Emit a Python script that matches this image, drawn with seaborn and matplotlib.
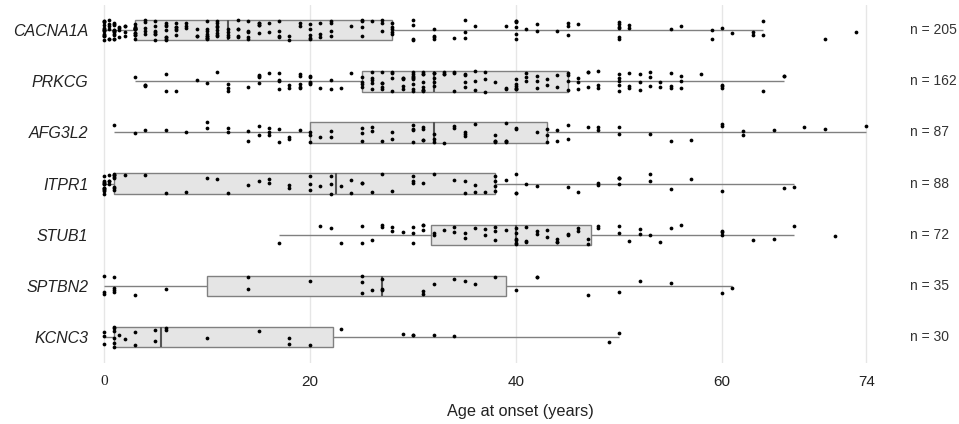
import numpy as np
import pandas as pd
import matplotlib
matplotlib.use("Agg")
import matplotlib.pyplot as plt
import seaborn as sns

# gene order (top to bottom)
genes = ["CACNA1A", "PRKCG", "AFG3L2", "ITPR1", "STUB1", "SPTBN2", "KCNC3"]

# age at onset values and how many patients share each value
cacna1a_age = [0, 0.5, 1, 1.5, 2, 3, 4, 5, 6, 7, 8, 9, 10, 11, 12,
               13, 14, 15, 16, 17, 18, 19, 20, 21, 22, 24, 25, 26, 27, 28,
               30, 32, 34, 35, 36, 39, 40, 41, 42, 44, 45, 46, 50, 51, 55,
               56, 59, 60, 61, 63, 64, 70, 73]
cacna1a_cnt = [14, 6, 12, 4, 4, 13, 5, 7, 8, 6, 3, 3, 9, 8, 4,
               5, 5, 5, 2, 4, 2, 2, 5, 3, 4, 1, 4, 1, 3, 5,
               4, 4, 1, 3, 1, 1, 6, 1, 2, 1, 3, 1, 6, 2, 1,
               1, 2, 1, 1, 2, 2, 1, 1]

prkcg_age = [3, 4, 6, 7, 9, 10, 11, 12, 14, 15, 16, 17, 18, 19, 20, 21, 22, 23, 24,
             25, 26, 27, 28, 29, 30, 31, 32,
             33, 34, 35, 36, 37, 38, 39, 40, 41, 42, 43, 44, 45,
             46, 47, 48, 50, 51, 52, 53, 54, 55, 56, 58, 60, 64, 66]
prkcg_cnt = [1, 3, 2, 1, 1, 1, 1, 3, 1, 4, 1, 4, 2, 5, 5, 1, 2, 1, 1,
             4, 5, 5, 4, 5, 9, 8, 5,
             3, 3, 4, 3, 3, 1, 2, 6, 3, 3, 2, 2, 4,
             3, 3, 3, 5, 3, 3, 3, 2, 3, 3, 1, 3, 1, 2]

afg3l2_age = [1, 3, 4, 6, 8, 10, 12, 14, 15, 16, 17, 18, 19, 20,
              21, 22, 25, 26, 27, 28, 30, 31, 32,
              33, 34, 35, 36, 38, 39, 40, 42, 43,
              44, 45, 47, 48, 50, 53, 55, 57, 60, 62, 65, 68, 70, 74]
afg3l2_cnt = [1, 1, 1, 1, 1, 2, 2, 2, 2, 3, 2, 2, 1, 3,
              1, 2, 3, 2, 1, 2, 4, 4, 3,
              1, 2, 3, 1, 4, 4, 2, 1, 3,
              2, 2, 1, 2, 2, 1, 1, 1, 2, 2, 1, 1, 1, 1]

itpr1_age = [0, 0.5, 1, 2, 4, 6, 8, 10, 11, 12, 14, 15, 16, 18, 20, 21, 22,
             23, 24, 25, 26, 27, 28, 30, 31, 32, 34, 35, 36, 37, 38,
             39, 40, 41, 42, 45, 46, 48, 50, 53, 55, 57, 60, 66, 67]
itpr1_cnt = [12, 4, 8, 1, 1, 1, 1, 1, 1, 1, 1, 1, 2, 2, 3, 1, 3,
             1, 2, 2, 1, 1, 1, 3, 1, 1, 1, 2, 2, 1, 4,
             1, 3, 1, 1, 1, 1, 2, 4, 2, 1, 1, 1, 1, 1]

stub1_age = [17, 21, 22, 23, 25, 26, 27, 28, 29, 30, 31,
             32, 33, 34, 35, 36, 37, 38, 39, 40,
             41, 42, 43, 44, 45, 46, 47,
             48, 50, 51, 52, 53, 54, 55, 56, 60, 63, 65, 67, 71]
stub1_cnt = [1, 1, 1, 1, 2, 1, 2, 2, 1, 3, 3,
             2, 1, 2, 2, 1, 2, 3, 1, 6,
             3, 2, 2, 3, 2, 2, 2,
             2, 2, 1, 2, 1, 1, 1, 1, 3, 1, 1, 1, 1]

sptbn2_age = [0, 1, 3, 6, 14, 20, 25, 26, 27, 31, 32, 34, 35, 36, 38, 40,
              42, 47, 50, 52, 55, 60, 61]
sptbn2_cnt = [3, 4, 1, 1, 2, 1, 3, 1, 3, 2, 1, 1, 1, 1, 1, 1,
              2, 1, 1, 1, 1, 1, 1]

kcnc3_age = [0, 1, 1.5, 2, 3, 5, 6, 10, 15, 18, 20, 23, 29, 30, 32, 34, 49, 50]
kcnc3_cnt = [3, 6, 1, 1, 2, 2, 2, 1, 1, 2, 1, 1, 1, 2, 1, 1, 1, 1]

x_ticks = [0, 20, 40, 60, 74]

ages = [cacna1a_age, prkcg_age, afg3l2_age, itpr1_age, stub1_age, sptbn2_age, kcnc3_age]
counts = [cacna1a_cnt, prkcg_cnt, afg3l2_cnt, itpr1_cnt, stub1_cnt, sptbn2_cnt, kcnc3_cnt]

frames = []
for g, a, c in zip(genes, ages, counts):
    vals = np.repeat(a, c)
    frames.append(pd.DataFrame({"gene": g, "age": vals}))
df = pd.concat(frames, ignore_index=True)

sns.set_style("white")
plt.rcParams["font.family"] = ["Liberation Sans", "DejaVu Sans"]

fig = plt.figure(figsize=(9.59, 4.24), dpi=100)
ax = fig.add_axes([0.0977, 0.1448, 0.8217, 0.8443])

sns.boxplot(data=df, x="age", y="gene", order=genes, width=0.4, whis=1.5,
            showfliers=False, showcaps=False, color="#e5e5e5", saturation=1,
            linecolor="#808080", linewidth=1,
            medianprops={"color": "#555555", "linewidth": 1.5}, ax=ax)

np.random.seed(7)
sns.stripplot(data=df, x="age", y="gene", order=genes, color="black",
              size=2.7, jitter=0.2, linewidth=0, zorder=3, ax=ax)

ax.set_xlim(-1, 75.5)
ax.set_ylim(6.5, -0.5)
ax.set_xticks(x_ticks)
ax.set_xticklabels([str(t) for t in x_ticks])
ax.xaxis.grid(True, color="#e6e6e6", linewidth=1)
ax.yaxis.grid(False)
ax.set_axisbelow(True)
for s in ax.spines.values():
    s.set_visible(False)
ax.tick_params(axis="x", length=0, pad=9, labelsize=11, labelcolor="#222222")
ax.tick_params(axis="y", length=0, pad=4, labelsize=11.5, labelcolor="#222222")
for lab in ax.get_yticklabels():
    lab.set_fontstyle("italic")
ax.get_xticklabels()[0].set_fontfamily("Liberation Serif")

ax.set_xlabel("Age at onset (years)", fontsize=11.7, color="#222222")
ax.xaxis.set_label_coords(0.541, -0.115)
ax.set_ylabel("")

# sample size per gene on the right
for i, c in enumerate(counts):
    ax.text(78.2, i, f"n = {sum(c)}", ha="left", va="center",
            fontsize=10, color="#333333", clip_on=False)

fig.savefig("out.png", dpi=100)
